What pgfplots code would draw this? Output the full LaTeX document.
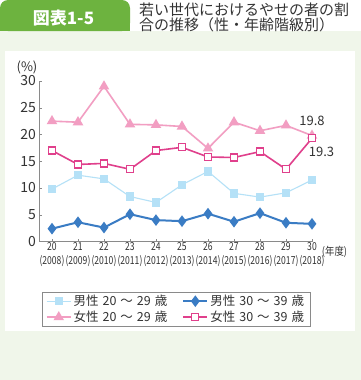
\documentclass[border=0pt]{standalone}
\usepackage{pgfplots}
\pgfplotsset{compat=1.18}
\usepackage{fontspec}
\setmainfont{Noto Sans CJK JP}
\usepackage{graphicx}
\definecolor{tabgreen}{HTML}{6DB33F}
\definecolor{bggreen}{HTML}{F0F6EA}
\definecolor{mlight}{HTML}{B5E1F7}
\definecolor{mblue}{HTML}{3A7CC4}
\definecolor{wpink}{HTML}{F29EC2}
\definecolor{wmag}{HTML}{E0408C}
\definecolor{axgray}{HTML}{8A8A8A}
\definecolor{txt}{HTML}{333333}
\newcommand{\gp}{\hspace{4pt}}
\begin{document}
\begin{tikzpicture}
\useasboundingbox (0pt,0pt) rectangle (361pt,-380pt);
\fill[bggreen] (0pt,-31pt) rectangle (361pt,-380pt);
\fill[white] (5pt,-50.5pt) rectangle (355pt,-331pt);
\fill[tabgreen,rounded corners=8pt] (0pt,-31pt) -- (0pt,0pt) -- (130pt,0pt) -- (130pt,-31pt) -- cycle;
\fill[tabgreen] (0pt,-31pt) rectangle (20pt,-10pt);
\fill[tabgreen] (110pt,-31pt) rectangle (130pt,-20pt);
\node[white,font=\fontsize{17}{18}\selectfont\bfseries] at (63.5pt,-18.5pt) {図表1-5};
\node[anchor=north west,txt,align=left,inner sep=0pt,font=\fontsize{15}{15.5}\selectfont] at (139pt,-2.5pt) {若い世代におけるやせの者の割\\合の推移（性・年齢階級別）};
\begin{axis}[
  at={(39.5pt,-241.5pt)}, anchor=south west,
  scale only axis, width=272.5pt, height=160.5pt,
  xmin=19.52, xmax=30, ymin=0, ymax=30,
  clip=false,
  axis lines*=left, axis line style={axgray,-},
  tick style={axgray}, tick align=inside, major tick length=3pt,
  xtick={20,...,30}, ytick={0,5,...,30},
  xticklabels={{20\\(2008)},{21\\(2009)},{22\\(2010)},{23\\(2011)},{24\\(2012)},{25\\(2013)},{26\\(2014)},{27\\(2015)},{28\\(2016)},{29\\(2017)},{30\\(2018)}},
  xticklabel style={align=center,font=\fontsize{11}{13.5}\selectfont,txt,xscale=0.78,inner sep=1pt},
  yticklabel style={font=\fontsize{14}{14}\selectfont,txt},
  /pgf/number format/assume math mode=true,
  legend columns=2,
  legend cell align=left,
  legend style={at={(0.501,-0.3146)}, anchor=north, draw=axgray, font=\fontsize{12.5}{15}\selectfont, text=txt,
    /tikz/every even column/.append style={column sep=13pt}, inner xsep=4pt, inner ysep=1pt},
  legend image code/.code={\draw[#1] (0pt,0pt) -- (24pt,0pt); \draw[#1,mark repeat=2,mark phase=2] plot coordinates {(0pt,0pt) (12pt,0pt) (24pt,0pt)};},
]
\addplot[mlight, line width=1.1pt, mark=square*, mark size=3.6pt, mark options={fill=mlight,draw=mlight}] coordinates {
(20,9.8) (21,12.4) (22,11.7) (23,8.4) (24,7.3) (25,10.6) (26,13.1) (27,9.0) (28,8.3) (29,9.1) (30,11.5)};
\addlegendentry{男性\gp{}20\gp{}〜\gp{}29\gp{}歳}
\addplot[mblue, line width=2pt, mark=diamond*, mark size=4.2pt, mark options={fill=mblue,draw=mblue}] coordinates {
(20,2.4) (21,3.6) (22,2.6) (23,5.1) (24,4.0) (25,3.8) (26,5.2) (27,3.7) (28,5.3) (29,3.5) (30,3.3)};
\addlegendentry{男性\gp{}30\gp{}〜\gp{}39\gp{}歳}
\addplot[wpink, line width=1.6pt, mark=triangle*, mark size=4.5pt, mark options={fill=wpink,draw=wpink}] coordinates {
(20,22.5) (21,22.3) (22,29.0) (23,21.9) (24,21.8) (25,21.5) (26,17.4) (27,22.3) (28,20.7) (29,21.7) (30,19.8)};
\addlegendentry{女性\gp{}20\gp{}〜\gp{}29\gp{}歳}
\addplot[wmag, line width=1.6pt, mark=square*, mark size=3.5pt, mark options={fill=white,draw=wmag,line width=1.3pt}] coordinates {
(20,17.0) (21,14.4) (22,14.6) (23,13.5) (24,17.0) (25,17.6) (26,15.8) (27,15.7) (28,16.8) (29,13.5) (30,19.3)};
\addlegendentry{女性\gp{}30\gp{}〜\gp{}39\gp{}歳}
\node[txt,font=\fontsize{13}{14}\selectfont] at (axis cs:30,19.8) [yshift=15pt] {19.8};
\node[txt,font=\fontsize{13}{14}\selectfont] at (axis cs:30,19.3) [xshift=9.5pt,yshift=-13.5pt] {19.3};
\end{axis}
\node[txt,font=\fontsize{11}{13}\selectfont,xscale=0.85] at (334.5pt,-252pt) {(年度)};
\node[txt,font=\fontsize{13}{14}\selectfont] at (27pt,-67pt) {(\%)};
\end{tikzpicture}
\end{document}
